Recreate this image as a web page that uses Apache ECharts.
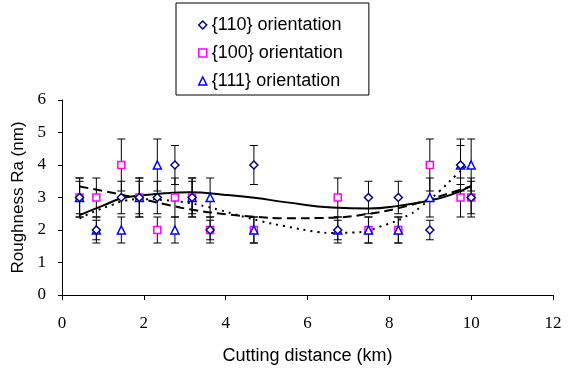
<!DOCTYPE html>
<html>
<head>
<meta charset="utf-8">
<script src="https://cdn.jsdelivr.net/npm/echarts@6/dist/echarts.min.js"></script>
<style>
html,body{margin:0;padding:0;background:#fff;}
#chart{width:571px;height:371px;}
</style>
</head>
<body>
<div id="chart"></div>
<script>
// Cutting distances (km) shared by the three orientations
const distances = [0.43, 0.84, 1.45, 1.89, 2.33, 2.76, 3.18, 3.62, 4.69, 6.74, 7.49, 8.22, 8.99, 9.74, 10.0];

// Roughness Ra (nm) and error bar half-widths
const ra110 = [3, 2, 3, 3, 3, 4, 3, 2, 4, 2, 3, 3, 2, 4, 3];
const err110 = [0.5, 0.3, 0.5, 0.5, 0.5, 0.6, 0.5, 0.3, 0.6, 0.3, 0.5, 0.5, 0.3, 0.6, 0.5];
const ra100 = [3, 3, 4, 3, 2, 3, 3, 2, 2, 3, 2, 2, 4, 3, 3];
const err100 = [0.6, 0.6, 0.8, 0.6, 0.4, 0.6, 0.6, 0.4, 0.4, 0.6, 0.4, 0.4, 0.8, 0.6, 0.6];
const ra111 = [3, 2, 2, 3, 4, 2, 3, 3, 2, 2, 2, 2, 3, 4, 4];
const err111 = [0.6, 0.4, 0.4, 0.6, 0.8, 0.4, 0.6, 0.6, 0.4, 0.4, 0.4, 0.4, 0.6, 0.8, 0.8];

// Trend lines
const solidX = [0.43, 1.0, 1.45, 1.89, 2.5, 3.1, 4.0, 4.7, 5.5, 6.6, 7.5, 8.25, 9.0, 9.5, 10.0];
const solidY = [2.46, 2.75, 2.97, 3.06, 3.13, 3.16, 3.08, 2.99, 2.85, 2.69, 2.66, 2.75, 2.91, 3.08, 3.35];
const dashX = [0.43, 1.0, 1.7, 2.63, 3.2, 4.05, 4.7, 5.44, 6.6, 7.5, 8.25, 9.0, 10.0];
const dashY = [3.34, 3.2, 3.02, 2.76, 2.62, 2.48, 2.41, 2.36, 2.38, 2.5, 2.68, 2.95, 3.35];
const dotX = [0.43, 0.75, 1.24, 1.53, 2.0, 2.5, 3.0, 3.5, 3.81, 4.87, 5.44, 6.25, 6.6, 7.11, 7.93, 8.5, 8.78, 9.23, 9.64, 10.0];
const dotY = [2.35, 2.55, 2.78, 2.9, 2.95, 2.92, 2.85, 2.73, 2.63, 2.27, 2.12, 1.94, 1.91, 1.92, 2.17, 2.48, 2.73, 3.2, 3.7, 4.1];

// Axis ticks
const xTicks = [0, 2, 4, 6, 8, 10, 12];
const yTicks = [0, 1, 2, 3, 4, 5, 6];

const names = ['{110} orientation', '{100} orientation', '{111} orientation'];
const colors = ['#000080', '#FF00FF', '#0000FF'];
const symbols = ['diamond', 'rect', 'triangle'];

function zip(a, b) { return a.map((v, i) => [v, b[i]]); }
function errData(v, e) { return distances.map((x, i) => [x, v[i] - e[i], v[i] + e[i]]); }

function errRender(params, api) {
  const x = api.value(0);
  const lo = api.coord([x, api.value(1)]);
  const hi = api.coord([x, api.value(2)]);
  const h = 4;
  const st = { stroke: '#000', lineWidth: 1 };
  return {
    type: 'group',
    children: [
      { type: 'line', shape: { x1: lo[0], y1: lo[1], x2: hi[0], y2: hi[1] }, style: st },
      { type: 'line', shape: { x1: lo[0] - h, y1: lo[1], x2: lo[0] + h, y2: lo[1] }, style: st },
      { type: 'line', shape: { x1: hi[0] - h, y1: hi[1], x2: hi[0] + h, y2: hi[1] }, style: st }
    ]
  };
}

const chart = echarts.init(document.getElementById('chart'), null, { renderer: 'canvas' });

const vals = [ra110, ra100, ra111];
const errs = [err110, err100, err111];
const zs = [5, 3, 4];
const sizes = [8, 7, 8];

const series = [];
for (let k = 0; k < 3; k++) {
  series.push({
    type: 'custom',
    name: 'err' + k,
    renderItem: errRender,
    data: errData(vals[k], errs[k]),
    encode: { x: 0, y: [1, 2] },
    z: 1,
    silent: true
  });
}
const lineDefs = [
  { x: solidX, y: solidY, type: 'solid', w: 2 },
  { x: dashX, y: dashY, type: [9, 5], w: 2 },
  { x: dotX, y: dotY, type: [2, 5], w: 2 }
];
lineDefs.forEach((d, i) => {
  series.push({
    type: 'line',
    name: 'trend' + i,
    data: zip(d.x, d.y),
    smooth: true,
    showSymbol: false,
    symbol: 'none',
    lineStyle: { color: '#000', width: d.w, type: d.type },
    z: 2,
    silent: true
  });
});
for (let k = 0; k < 3; k++) {
  series.push({
    type: 'scatter',
    name: names[k],
    data: zip(distances, vals[k]),
    symbol: symbols[k],
    symbolSize: sizes[k],
    itemStyle: { color: '#fff', borderColor: colors[k], borderWidth: 1.5, opacity: 1 },
    z: zs[k]
  });
}

chart.setOption({
  animation: false,
  backgroundColor: '#fff',
  grid: { left: 62, right: 18, top: 100, bottom: 76, containLabel: false },
  legend: {
    data: names.map((n, k) => ({
      name: n,
      icon: symbols[k],
      itemStyle: { color: '#fff', borderColor: colors[k], borderWidth: 1.5 }
    })),
    orient: 'vertical',
    left: 176,
    top: 3,
    itemWidth: 8,
    itemHeight: 8,
    itemGap: 10,
    itemTextGap: 6,
    padding: [13, 26, 5, 22],
    borderColor: '#000',
    borderWidth: 1,
    backgroundColor: '#fff',
    textStyle: { fontFamily: 'Liberation Sans', fontSize: 18, color: '#000' }
  },
  xAxis: {
    type: 'value',
    min: xTicks[0],
    max: xTicks[xTicks.length - 1],
    interval: 2,
    name: 'Cutting distance (km)',
    nameLocation: 'middle',
    nameGap: 52,
    nameTextStyle: { fontFamily: 'Liberation Sans', fontSize: 18, color: '#000' },
    axisLine: { show: true, onZero: false, lineStyle: { color: '#000', width: 1 } },
    axisTick: { show: true, length: 5, lineStyle: { color: '#000' } },
    axisLabel: { fontFamily: 'Liberation Serif', fontSize: 17, color: '#000', margin: 20 },
    splitLine: { show: false }
  },
  yAxis: {
    type: 'value',
    min: yTicks[0],
    max: yTicks[yTicks.length - 1],
    interval: 1,
    name: 'Roughness Ra (nm)',
    nameLocation: 'middle',
    nameGap: 35,
    nameTextStyle: { fontFamily: 'Liberation Sans', fontSize: 17, color: '#000' },
    axisLine: { show: true, onZero: false, lineStyle: { color: '#000', width: 1 } },
    axisTick: { show: true, length: 4, lineStyle: { color: '#000' } },
    axisLabel: { fontFamily: 'Liberation Serif', fontSize: 17, color: '#000', margin: 16 },
    splitLine: { show: false }
  },
  series: series
});
</script>
</body>
</html>
